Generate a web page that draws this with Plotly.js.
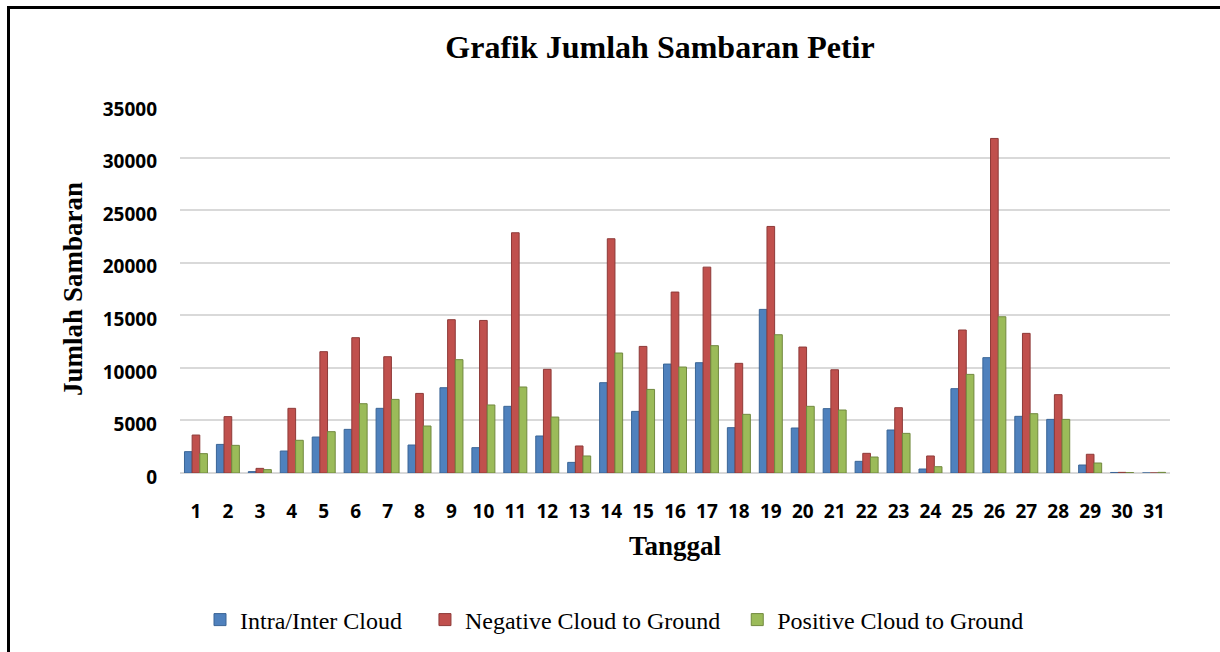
<!DOCTYPE html>
<html>
<head>
<meta charset="utf-8">
<script src="https://cdn.plot.ly/plotly-3.0.1.min.js"></script>
<style>
  html, body { margin: 0; padding: 0; background: #ffffff; }
  #wrap { position: relative; width: 1220px; height: 652px; overflow: hidden; }
  #chart { position: absolute; left: 0; top: 0; width: 1220px; height: 652px; }
  #frame { position: absolute; left: 7px; top: 6px; width: 1300px; height: 700px;
           border-top: 3px solid #000; border-left: 3px solid #000; pointer-events: none; }
</style>
</head>
<body>
<div id="wrap">
  <div id="chart"></div>
  <div id="frame"></div>
</div>
<script>
const days = ["1","2","3","4","5","6","7","8","9","10","11","12","13","14","15","16","17","18","19","20","21","22","23","24","25","26","27","28","29","30","31"];
const intraInterCloud = [2030, 2720, 130, 2090, 3420, 4150, 6150, 2660, 8110, 2410, 6340, 3520, 1010, 8590, 5860, 10360, 10490, 4310, 15560, 4280, 6120, 1110, 4090, 380, 8020, 10970, 5390, 5100, 760, 50, 0];
const negativeCG = [3610, 5360, 440, 6150, 11540, 12870, 11060, 7570, 14580, 14510, 22850, 9860, 2570, 22280, 12040, 17210, 19580, 10430, 23450, 11980, 9820, 1870, 6210, 1620, 13600, 31820, 13280, 7450, 1780, 60, 0];
const positiveCG = [1840, 2630, 320, 3110, 3930, 6590, 7000, 4470, 10780, 6470, 8180, 5320, 1620, 11410, 7950, 10080, 12110, 5580, 13150, 6340, 5990, 1520, 3770, 600, 9380, 14860, 5640, 5100, 950, 40, 60];
const seriesNames = ["Intra/Inter Cloud", "Negative Cloud to Ground", "Positive Cloud to Ground"];
const yTicks = [0, 5000, 10000, 15000, 20000, 25000, 30000, 35000];

const colors = ["#4F81BD", "#C0504D", "#9BBB59"];
const edges = ["#3A6596", "#8E3A38", "#71893F"];
// extra legend spacing after each entry (non-breaking spaces), to match the reference legend spacing
const legendPad = ["\u00a0\u00a0\u00a0", "\u00a0\u00a0", ""];
const data = [intraInterCloud, negativeCG, positiveCG].map((vals, i) => ({
  type: "bar",
  x: days,
  y: vals,
  name: seriesNames[i] + legendPad[i],
  marker: { color: colors[i], line: { color: edges[i], width: 1 } },
  hovertemplate: "%{x}: %{y}<extra>" + seriesNames[i] + "</extra>"
}));

const layout = {
  width: 1220,
  height: 652,
  margin: { l: 180, r: 50, t: 105, b: 179, pad: 0 },
  paper_bgcolor: "#ffffff",
  plot_bgcolor: "#ffffff",
  barmode: "group",
  bargap: 0.28,
  bargroupgap: 0,
  title: {
    text: "<b>Grafik Jumlah Sambaran Petir</b>",
    font: { family: "Liberation Serif, Times New Roman, serif", size: 32, color: "#000" },
    xref: "container", x: 660 / 1220, xanchor: "center",
    yref: "container", y: 1 - 47 / 652, yanchor: "middle"
  },
  xaxis: {
    type: "category",
    showgrid: false,
    showline: false,
    zeroline: false,
    ticks: "",
    ticklabelstandoff: 25,
    tickfont: { family: "Open Sans, Noto Sans, sans-serif", size: 19, color: "#000", weight: "bold" },
    title: {
      text: "<b>Tanggal</b>",
      font: { family: "Liberation Serif, Times New Roman, serif", size: 27, color: "#000" },
      standoff: 13
    }
  },
  yaxis: {
    range: [0, 35000],
    tickvals: yTicks,
    ticktext: yTicks.map(String),
    showgrid: true,
    gridcolor: "#D9D9D9",
    gridwidth: 2,
    zeroline: true,
    zerolinecolor: "#D9D9D9",
    zerolinewidth: 2,
    showline: false,
    ticks: "",
    ticklabelstandoff: 22,
    ticklabelshift: 4,
    tickfont: { family: "Open Sans, Noto Sans, sans-serif", size: 19, color: "#000", weight: "bold" },
    title: {
      text: "<b>Jumlah Sambaran</b>",
      font: { family: "Liberation Serif, Times New Roman, serif", size: 27, color: "#000" },
      standoff: 12
    }
  },
  showlegend: true,
  legend: {
    orientation: "h",
    xref: "container", yref: "container",
    x: 200 / 1220, xanchor: "left",
    y: 1 - 620 / 652, yanchor: "middle",
    font: { family: "Liberation Serif, Times New Roman, serif", size: 24, color: "#000" },
    bgcolor: "rgba(0,0,0,0)"
  }
};

Plotly.newPlot("chart", data, layout, { displayModeBar: false, responsive: false });
</script>
</body>
</html>
